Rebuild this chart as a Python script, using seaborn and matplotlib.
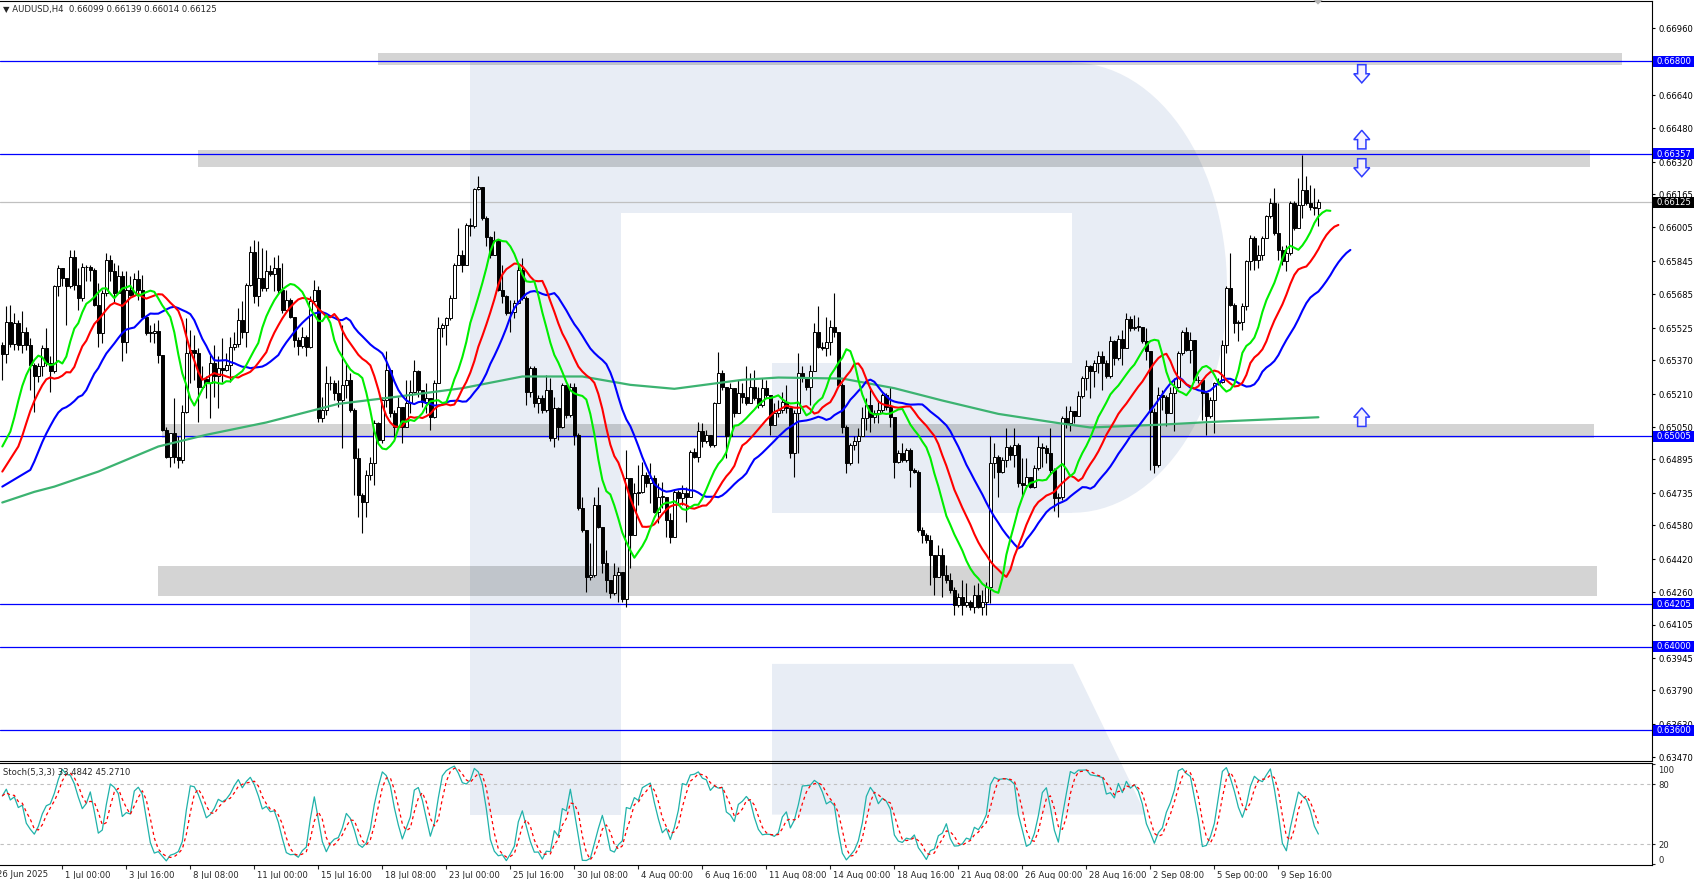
import numpy as np
import pandas as pd
import matplotlib
matplotlib.use("Agg")
import matplotlib.pyplot as plt
import matplotlib.transforms as mtransforms
from matplotlib.patches import Polygon, Rectangle
import seaborn as sns

# ---------------------------
# Data: AUDUSD H4 bars, prices in 1e-5 steps above 0.60000
# ---------------------------
first_open = 5443

close_pts = [
    5401, 5552, 5449, 5547, 5443, 5507, 5443, 5348, 5292, 5340,
    5428, 5356, 5316, 5723, 5810, 5763, 5723, 5866, 5731, 5667,
    5818, 5815, 5803, 5635, 5502, 5691, 5850, 5795, 5691, 5771,
    5455, 5707, 5683, 5758, 5707, 5579, 5502, 5502, 5510, 5396,
    5037, 4909, 5020, 4909, 4893, 5124, 5404, 5420, 5404, 5244,
    5279, 5263, 5356, 5292, 5332, 5324, 5348, 5435, 5448, 5563,
    5507, 5731, 5890, 5675, 5763, 5715, 5795, 5783, 5810, 5707,
    5611, 5656, 5579, 5467, 5439, 5483, 5435, 5651, 5707, 5092,
    5132, 5260, 5260, 5212, 5180, 5252, 5276, 5132, 4901, 4725,
    4693, 4821, 4877, 5068, 4989, 5180, 5324, 5116, 5052, 5148,
    5052, 5164, 5220, 5316, 5228, 5172, 5188, 5100, 5260, 5523,
    5539, 5571, 5667, 5826, 5874, 5826, 6018, 6010, 6189, 6198,
    6050, 5959, 5874, 5943, 5707, 5675, 5595, 5600, 5643, 5802,
    5667, 5220, 5332, 5164, 5188, 5132, 5228, 4997, 5140, 5052,
    5252, 5108, 5241, 5013, 4661, 4558, 4334, 4342, 4677, 4574,
    4398, 4318, 4254, 4342, 4358, 4226, 4805, 4534, 4733, 4741,
    4821, 4781, 4805, 4645, 4717, 4717, 4606, 4526, 4741, 4709,
    4733, 4717, 4933, 4909, 5029, 4981, 5013, 4965, 5164, 5308,
    5244, 5005, 5236, 5116, 5215, 5196, 5164, 5244, 5188, 5156,
    5236, 5204, 5060, 5116, 5132, 5172, 5140, 4925, 5116, 5308,
    5284, 5241, 5316, 5507, 5435, 5427, 5459, 5531, 5507, 5252,
    5052, 4877, 4965, 4981, 5005, 5092, 5156, 5100, 5116, 5132,
    5204, 5148, 5100, 4885, 4925, 4893, 4941, 4845, 4837, 4558,
    4534, 4510, 4438, 4334, 4438, 4342, 4318, 4270, 4199, 4238,
    4199, 4214, 4190, 4246, 4190, 4214, 4286, 4880, 4909, 4837,
    4893, 4957, 4917, 4965, 4781, 4773, 4813, 4765, 4853, 4957,
    4949, 4925, 4845, 4709, 4717, 5093, 5069, 5125, 5104, 5197,
    5284, 5340, 5316, 5356, 5388, 5356, 5292, 5460, 5380, 5471,
    5428, 5566, 5523, 5531, 5531, 5460, 5412, 5124, 4869, 5204,
    5196, 5116, 5212, 5244, 5404, 5507, 5420, 5468, 5276, 5273,
    5212, 5101, 5180, 5260, 5268, 5444, 5715, 5635, 5547, 5555,
    5627, 5843, 5954, 5851, 5875, 5954, 6061, 6122, 5978, 5898,
    5843, 5882, 6122, 6002, 6114, 6186, 6122, 6103, 6099, 6125,
]

high_pts = [
    5459, 5627, 5635, 5595, 5563, 5603, 5531, 5475, 5356, 5356,
    5443, 5523, 5388, 5731, 5826, 5803, 5763, 5898, 5898, 5810,
    5834, 5826, 5826, 5810, 5739, 5707, 5882, 5874, 5834, 5826,
    5795, 5795, 5771, 5787, 5803, 5779, 5587, 5539, 5547, 5563,
    5396, 5052, 5020, 5188, 5005, 5156, 5571, 5515, 5491, 5428,
    5340, 5292, 5396, 5443, 5388, 5475, 5404, 5483, 5507, 5619,
    5651, 5739, 5914, 5946, 5938, 5906, 5898, 5826, 5866, 5874,
    5834, 5707, 5667, 5579, 5483, 5531, 5491, 5675, 5755, 5723,
    5196, 5340, 5292, 5276, 5276, 5539, 5356, 5308, 5140, 4949,
    4733, 4845, 4909, 5084, 5076, 5196, 5412, 5324, 5132, 5196,
    5116, 5276, 5276, 5372, 5324, 5204, 5260, 5180, 5276, 5579,
    5547, 5579, 5683, 5834, 6002, 5898, 6026, 6050, 6193, 6249,
    6201, 6058, 5962, 5986, 5938, 5826, 5683, 5659, 5659, 5826,
    5858, 5675, 5340, 5340, 5204, 5204, 5300, 5284, 5196, 5148,
    5260, 5252, 5260, 5260, 5021, 4717, 4558, 4494, 4717, 4765,
    4574, 4462, 4318, 4398, 4382, 4358, 4941, 4805, 4781, 4869,
    4885, 4837, 4877, 4821, 4781, 4789, 4717, 4637, 4749, 4749,
    4773, 4765, 4941, 4949, 5076, 5068, 5036, 5005, 5172, 5411,
    5324, 5244, 5260, 5236, 5276, 5260, 5340, 5308, 5324, 5244,
    5284, 5276, 5204, 5164, 5180, 5220, 5252, 5148, 5132, 5404,
    5340, 5276, 5348, 5547, 5627, 5459, 5579, 5563, 5691, 5507,
    5260, 5060, 4973, 5005, 5045, 5148, 5188, 5244, 5132, 5180,
    5212, 5212, 5244, 5100, 4941, 4973, 4949, 4949, 4853, 4845,
    4574, 4542, 4534, 4438, 4486, 4470, 4390, 4350, 4286, 4254,
    4318, 4302, 4222, 4294, 4302, 4270, 4310, 5005, 4973, 4915,
    4909, 5045, 4965, 5045, 4973, 4901, 4901, 4813, 4869, 5005,
    4973, 4965, 5045, 4853, 4733, 5101, 5149, 5149, 5125, 5221,
    5292, 5372, 5348, 5372, 5412, 5412, 5372, 5484, 5468, 5492,
    5516, 5595, 5580, 5587, 5579, 5531, 5523, 5412, 5140, 5244,
    5228, 5204, 5244, 5284, 5412, 5515, 5531, 5507, 5468, 5292,
    5276, 5212, 5196, 5268, 5284, 5468, 5723, 5882, 5643, 5563,
    5643, 5851, 5970, 5962, 5922, 5962, 6066, 6146, 6194, 6122,
    5914, 5922, 6130, 6130, 6242, 6353, 6249, 6210, 6194, 6139,
]

low_pts = [
    5276, 5356, 5435, 5420, 5420, 5404, 5420, 5228, 5124, 5268,
    5292, 5340, 5220, 5308, 5675, 5723, 5539, 5715, 5707, 5611,
    5651, 5747, 5747, 5627, 5435, 5451, 5675, 5747, 5643, 5691,
    5364, 5404, 5675, 5675, 5659, 5571, 5491, 5459, 5451, 5356,
    5029, 4901, 4861, 4877, 4853, 4877, 5116, 5260, 5276, 5076,
    5236, 5188, 5092, 5196, 5140, 5268, 5316, 5268, 5420, 5435,
    5475, 5435, 5723, 5643, 5627, 5699, 5699, 5771, 5699, 5691,
    5595, 5606, 5571, 5435, 5396, 5428, 5388, 5428, 5643, 5076,
    5076, 5108, 5228, 5180, 5148, 4949, 5188, 5124, 4725, 4621,
    4542, 4621, 4797, 4773, 4973, 4973, 5148, 5100, 4997, 5044,
    4973, 5068, 5116, 5212, 5196, 5148, 5116, 5036, 5092, 5260,
    5483, 5443, 5563, 5667, 5826, 5794, 5826, 5962, 6002, 6185,
    6042, 5914, 5858, 5874, 5699, 5643, 5587, 5507, 5571, 5640,
    5659, 5156, 5196, 5148, 5116, 5116, 5124, 4981, 4957, 4989,
    5044, 5092, 5100, 4965, 4653, 4550, 4262, 4318, 4334, 4566,
    4350, 4262, 4230, 4246, 4214, 4214, 4190, 4374, 4534, 4677,
    4733, 4765, 4685, 4637, 4590, 4661, 4526, 4494, 4526, 4685,
    4677, 4597, 4717, 4901, 4885, 4957, 4973, 4957, 4957, 5164,
    5228, 4901, 5005, 5100, 5116, 5164, 5156, 5164, 5180, 5140,
    5148, 5188, 5013, 5060, 5100, 5116, 5116, 4901, 4813, 4925,
    5268, 5228, 5156, 5316, 5428, 5420, 5388, 5396, 5483, 5244,
    5021, 4829, 4869, 4941, 4877, 5005, 5036, 5028, 5068, 5068,
    5116, 5132, 5052, 4805, 4877, 4885, 4885, 4765, 4829, 4550,
    4494, 4494, 4294, 4246, 4334, 4238, 4302, 4254, 4151, 4190,
    4151, 4190, 4174, 4159, 4182, 4151, 4151, 4206, 4805, 4717,
    4829, 4861, 4893, 4861, 4765, 4717, 4765, 4757, 4757, 4845,
    4861, 4877, 4829, 4646, 4622, 4701, 5045, 5029, 5069, 5101,
    5188, 5228, 5188, 5244, 5308, 5228, 5284, 5284, 5348, 5370,
    5348, 5428, 5508, 5515, 5508, 5452, 5372, 4845, 4829, 4861,
    5132, 5053, 5116, 5029, 5236, 5396, 5412, 5356, 5268, 5260,
    5085, 5013, 5093, 5021, 5252, 5260, 5404, 5627, 5499, 5460,
    5515, 5611, 5803, 5803, 5811, 5851, 5954, 6050, 5970, 5851,
    5827, 5795, 5875, 5994, 6050, 6050, 6114, 6090, 6066, 6014,
]

# 200-period MA (bar index, value)
ma200_bars = [0, 8, 13, 24, 39, 51, 66, 84, 99, 115, 130, 145, 157, 168,
              185, 194, 210, 223, 235, 249, 264, 272, 289, 305, 329]
ma200_pts = [4689, 4740, 4765, 4837, 4957, 5013, 5072, 5161, 5196, 5236,
             5292, 5292, 5252, 5233, 5276, 5287, 5282, 5236, 5177, 5113,
             5069, 5048, 5061, 5077, 5097]

# Alligator: value at left edge and value where the history runs out
lips_left, lips_seed = 4957, 5028
teeth_left, teeth_seed = 4837, 4957
jaw_left, jaw_seed = 4765, 4845

# x axis labels (every 16 H4 bars)
tick_bars = list(range(15, 330, 16))
tick_labels = ["1 Jul 00:00", "3 Jul 16:00", "8 Jul 08:00", "11 Jul 00:00",
               "15 Jul 16:00", "18 Jul 08:00", "23 Jul 00:00", "25 Jul 16:00",
               "30 Jul 08:00", "4 Aug 00:00", "6 Aug 16:00", "11 Aug 08:00",
               "14 Aug 00:00", "18 Aug 16:00", "21 Aug 08:00", "26 Aug 00:00",
               "28 Aug 16:00", "2 Sep 08:00", "5 Sep 00:00", "9 Sep 16:00"]

price_ticks = [0.66960, 0.66800, 0.66640, 0.66480, 0.66320, 0.66165, 0.66005,
               0.65845, 0.65685, 0.65525, 0.65370, 0.65210, 0.65050, 0.64895,
               0.64735, 0.64580, 0.64420, 0.64260, 0.64105, 0.63945, 0.63790,
               0.63630, 0.63470]
level_lines = [0.66800, 0.66357, 0.65005, 0.64205, 0.64000, 0.63600]
last_price = 0.66125

# grey zones: price low, price high, first bar, last bar
zone_lo = [0.66781, 0.66293, 0.64997, 0.64244]
zone_hi = [0.66840, 0.66377, 0.65066, 0.64383]
zone_x0 = [93.9, 48.9, 39.9, 38.9]
zone_x1 = [404.9, 396.9, 397.9, 398.7]

assert len(close_pts) == len(high_pts) == len(low_pts) == 330

# ---------------------------
# Build bars
# ---------------------------
n = len(close_pts)
bars = np.arange(n)
c = np.array(close_pts, dtype=float)
o = np.r_[first_open, c[:-1]]
h = np.maximum.reduce([np.array(high_pts, float), o, c])
l = np.minimum.reduce([np.array(low_pts, float), o, c])
to_price = lambda v: 0.6 + np.asarray(v, dtype=float) / 1e5

def smma(vals, period, seed):
    out, s = [], seed
    for p in vals:
        s = (s * (period - 1) + p) / period
        out.append(s)
    return np.array(out)

median = (h + l) / 2
lips = pd.DataFrame({"x": np.r_[0, 2, bars + 3],
                     "y": to_price(np.r_[lips_left, lips_seed, smma(median, 5, lips_seed)])})
teeth = pd.DataFrame({"x": np.r_[0, 4, bars + 5],
                      "y": to_price(np.r_[teeth_left, teeth_seed, smma(median, 8, teeth_seed)])})
jaw = pd.DataFrame({"x": np.r_[0, 7, bars + 8],
                    "y": to_price(np.r_[jaw_left, jaw_seed, smma(median, 13, jaw_seed)])})
ma200 = pd.DataFrame({"x": ma200_bars, "y": to_price(ma200_pts)})

# Stochastic 5,3,3
hs, ls, cs = pd.Series(h), pd.Series(l), pd.Series(c)
ll = ls.rolling(5, min_periods=1).min()
hh = hs.rolling(5, min_periods=1).max()
k = 100 * (cs - ll).rolling(3, min_periods=1).sum() / (hh - ll).rolling(3, min_periods=1).sum()
d = k.rolling(3, min_periods=1).mean()
stoch = pd.DataFrame({"x": bars, "k": k, "d": d})

# ---------------------------
# Figure
# ---------------------------
sns.set_style("white")
plt.rcParams["font.family"] = ["DejaVu Sans"]
W, H = 1694, 879
FS = 6.1
fig = plt.figure(figsize=(W / 100, (H + 0.4) / 100), dpi=100, facecolor="white")

def fx(px):
    return px / W

def fy(py):
    return 1 - py / H

# watermark "R" behind everything
wm = "#e8edf5"
shapes = [
    [(470, 62.5), (621, 62.5), (621, 814.6), (470, 814.6)],
    [(621, 62.5), (1072, 62.5), (1072, 213), (621, 213)],
    [(772, 363), (1072, 363), (1072, 513), (772, 513)],
    [(772, 664), (1073, 664), (1146, 814.6), (772, 814.6)],
]
t = np.linspace(-np.pi / 2, np.pi / 2, 60)
shapes.append(list(zip(1072 + 155 * np.cos(t), 288 + 225 * np.sin(t))))
for s in shapes:
    fig.add_artist(Polygon([(fx(x), fy(y)) for x, y in s], closed=True, fc=wm,
                           ec="none", zorder=-5, transform=fig.transFigure))

ax = fig.add_axes([0, fy(761), fx(1652), (761 - 1) / H])
ax_st = fig.add_axes([0, fy(865), fx(1652), (865 - 763) / H])
for a in (ax, ax_st):
    a.set_facecolor("none")
    a.set_xlim(-0.575, 412.4)
    for side in ("top", "right", "bottom"):
        a.spines[side].set_visible(True)
        a.spines[side].set_color("black")
        a.spines[side].set_linewidth(0.8)
    a.spines["left"].set_visible(False)

ax.set_ylim(0.634524, 0.670906)

# zones
for lo, hi, x0, x1 in zip(zone_lo, zone_hi, zone_x0, zone_x1):
    ax.add_patch(Rectangle((x0, lo), x1 - x0, hi - lo, fc="black", alpha=0.17,
                           ec="none", zorder=1))

# level lines
for lv in level_lines:
    ax.axhline(lv, color="#0000ff", lw=0.9, zorder=2)
ax.axhline(last_price, color="#c0c0c0", lw=0.9, zorder=2)

# candles
po, pc, ph, pl = to_price(o), to_price(c), to_price(h), to_price(l)
ax.vlines(bars, pl, ph, color="black", lw=0.8, zorder=3)
body_lo = np.minimum(po, pc)
body_h = np.maximum(np.abs(pc - po), 0.000012)
up = pc >= po
ax.bar(bars[up], body_h[up], bottom=body_lo[up], width=0.62, color="white",
       edgecolor="black", linewidth=0.7, zorder=4)
ax.bar(bars[~up], body_h[~up], bottom=body_lo[~up], width=0.62, color="black",
       edgecolor="black", linewidth=0.7, zorder=4)

# moving averages
sns.lineplot(data=ma200, x="x", y="y", ax=ax, color="#3cb371", lw=1.6, zorder=5)
sns.lineplot(data=jaw, x="x", y="y", ax=ax, color="#0000ff", lw=1.5, zorder=6)
sns.lineplot(data=teeth, x="x", y="y", ax=ax, color="#ff0000", lw=1.5, zorder=6)
sns.lineplot(data=lips, x="x", y="y", ax=ax, color="#00ee00", lw=1.5, zorder=6)

# arrows
def arrow(xc, y_from, y_to):
    sw, hw = 1.04, 2.0
    hl = 0.5 * (y_to - y_from)
    yb = y_to - hl
    pts = [(xc - sw, y_from), (xc + sw, y_from), (xc + sw, yb), (xc + hw, yb),
           (xc, y_to), (xc - hw, yb), (xc - sw, yb)]
    ax.add_patch(Polygon(pts, closed=True, fc="#f6f2ff", ec="#2f3cff", lw=1.1,
                         zorder=7, clip_on=False))

arrow(339.85, 0.66784, 0.66697)
arrow(339.85, 0.66381, 0.66470)
arrow(339.85, 0.66334, 0.66248)
arrow(339.85, 0.65053, 0.65142)

# price axis
ax.set_xticks([])
ax.set_xlabel("")
ax.set_ylabel("")
ax.yaxis.tick_right()
ax.set_yticks(price_ticks)
ax.set_yticklabels([f"{p:.5f}" for p in price_ticks])
ax.tick_params(axis="y", which="both", direction="out", length=2.5, width=0.8,
               pad=2, labelsize=FS, colors="black", right=True, left=False)

lab_tr = mtransforms.blended_transform_factory(fig.transFigure, ax.transData)
half = 5.5 * (0.670906 - 0.634524) / 760
for lv, bg in [(p, "#0000ff") for p in level_lines] + [(last_price, "black")]:
    ax.add_patch(Rectangle((fx(1653), lv - half), fx(41), 2 * half, fc=bg, ec="none",
                           transform=lab_tr, clip_on=False, zorder=20))
    ax.text(fx(1656), lv, f"{lv:.5f}", transform=lab_tr, color="white", fontsize=FS,
            va="center", ha="left", zorder=21, clip_on=False)

# stochastic panel
ax_st.set_ylim(-0.7, 101.3)
for lv in (80, 20):
    ax_st.axhline(lv, color="#c0c0c0", lw=0.8, ls=(0, (3, 3)), zorder=1)
sns.lineplot(data=stoch, x="x", y="k", ax=ax_st, color="#20b2aa", lw=0.9, zorder=3)
sns.lineplot(data=stoch, x="x", y="d", ax=ax_st, color="#ff0000", lw=0.9,
             ls=(0, (2.5, 2.5)), zorder=4)
ax_st.set_xlabel("")
ax_st.set_ylabel("")
ax_st.yaxis.tick_right()
ax_st.set_yticks([0, 20, 80, 100])
ax_st.set_yticklabels(["0", "20", "80", "100"])
ax_st.tick_params(axis="y", direction="out", length=2.5, width=0.8, pad=2,
                  labelsize=FS, right=True, left=False)
# MT4 keeps the end labels inside the panel
for lab, dy in zip(ax_st.get_yticklabels(), [5, 0, 0, -5]):
    lab.set_transform(lab.get_transform() +
                      mtransforms.ScaledTranslation(0, dy / 100, fig.dpi_scale_trans))
ax_st.set_xticks(tick_bars)
ax_st.set_xticklabels(tick_labels)
ax_st.tick_params(axis="x", direction="out", length=3, width=0.8, pad=1,
                  labelsize=FS, bottom=True)
shift = mtransforms.ScaledTranslation(3 / 100, 0, fig.dpi_scale_trans)
for lab in ax_st.get_xticklabels():
    lab.set_horizontalalignment("left")
    lab.set_transform(lab.get_transform() + shift)

# texts
fig.text(fx(3), fy(9), "\u25bc AUDUSD,H4  0.66099 0.66139 0.66014 0.66125",
         fontsize=FS, va="center", ha="left")
fig.text(fx(3), fy(772), "Stoch(5,3,3) 33.4842 45.2710", fontsize=FS,
         va="center", ha="left")
fig.text(fx(48), fy(874), "26 Jun 2025", fontsize=FS, va="center", ha="right")

# chart shift marker at the top
fig.add_artist(Polygon([(fx(1313), fy(0)), (fx(1323), fy(0)), (fx(1318), fy(5))],
                       closed=True, fc="#b4b4b4", ec="none", zorder=10,
                       transform=fig.transFigure))

fig.savefig("out.png", dpi=100, facecolor="white")
